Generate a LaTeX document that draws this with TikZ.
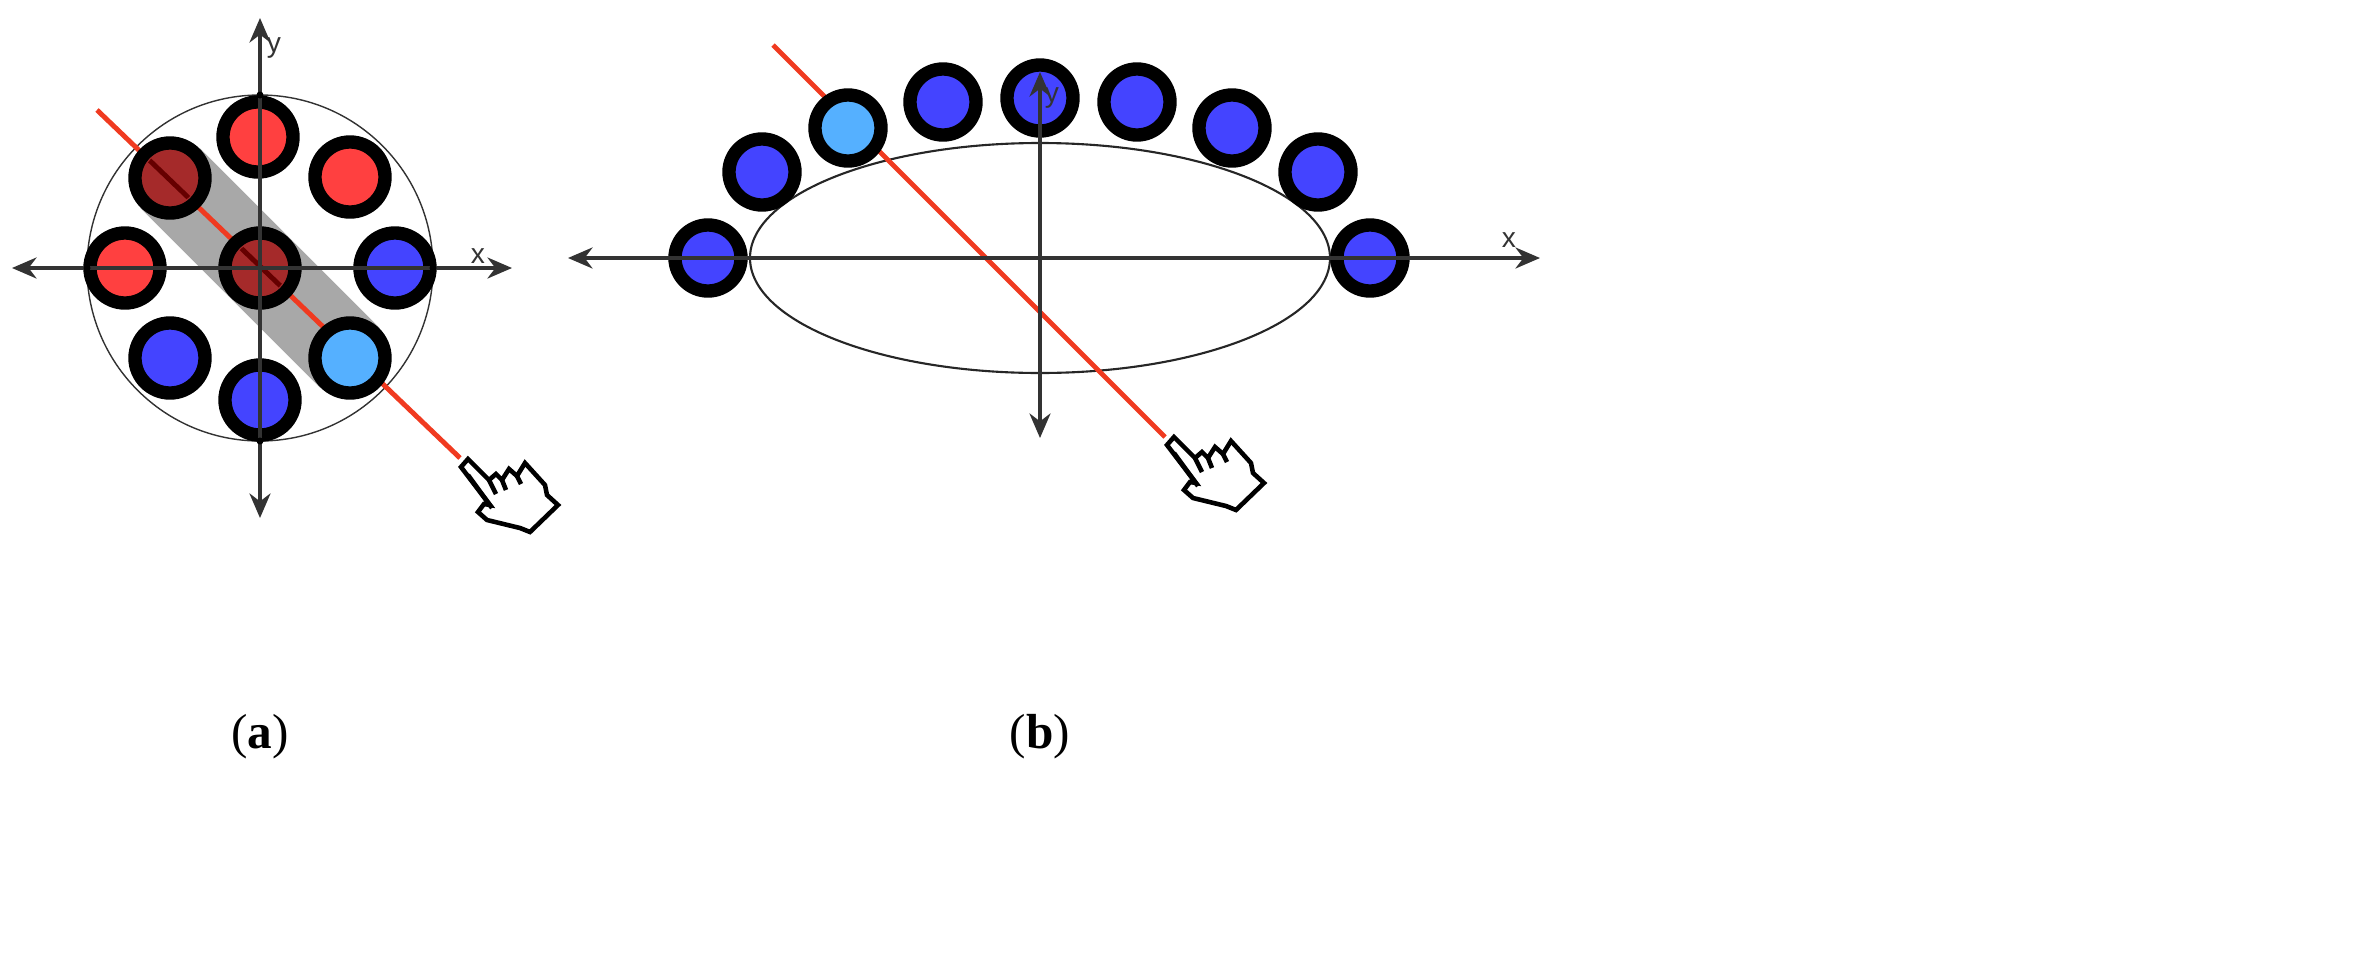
\documentclass[tikz,border=0pt]{standalone}
\usetikzlibrary{arrows.meta}
\usepackage{fontspec}
\setmainfont{Liberation Serif}
\newfontfamily\axfont{Liberation Sans}
\definecolor{cred}{HTML}{FF4040}
\definecolor{cdred}{HTML}{A52A2A}
\definecolor{cblue}{HTML}{4444FF}
\definecolor{clblue}{HTML}{55B0FF}
\definecolor{cgrey}{HTML}{A8A8A8}
\definecolor{cline}{HTML}{F03A20}
\begin{document}
\begin{tikzpicture}[x=0.01cm,y=-0.01cm,
  axis/.style={draw=black!80,line width=0.9pt,{Stealth[length=7pt,width=6pt]}-{Stealth[length=7pt,width=6pt]}},
  ring/.style={circle,draw=black,line width=3.8pt,inner sep=0pt,minimum size=0.70cm},
  ringb/.style={ring,minimum size=0.66cm},
  laser/.style={draw=cline,line width=1.4pt},
  hand/.style={draw=black,line width=1.3pt,fill=white,line join=miter},
  lab/.style={font=\axfont\fontsize{8}{9}\selectfont,text=black!80},
  captxt/.style={font=\fontsize{14}{16}\selectfont}]
\useasboundingbox (0,0) rectangle (2377,954);
% ---------- panel (a)
\coordinate (A) at (260,268);
\draw[black!80,line width=0.4pt] (A) circle (173);
\draw[cgrey,line width=24pt] (170,178) -- (350,358);
\coordinate (La) at (97,110);
\coordinate (Lb) at (460,458);
\draw[laser] (La) -- (Lb);
\node[ring,fill=cred]   (a1) at (258,137) {};
\node[ring,fill=cred]   (a2) at (350,177) {};
\node[ring,fill=cdred]  (a3) at (170,178) {};
\node[ring,fill=cred]   (a4) at (125,268) {};
\node[ring,fill=cdred]  (a5) at (260,268) {};
\node[ring,fill=cblue]  (a6) at (395,268) {};
\node[ring,fill=cblue]  (a7) at (170,358) {};
\node[ring,fill=cblue]  (a8) at (260,400) {};
\node[ring,fill=clblue] (a9) at (350,358) {};
\begin{scope}
\clip (170,178) circle (27) (260,268) circle (27);
\draw[draw=black!60!red,line width=1.4pt] (La) -- (Lb);
\end{scope}
\draw[axis] (12,268) -- (512,268);
\draw[axis] (260,518) -- (260,18);
\foreach \p in {(87,268),(433,268),(260,95),(260,441)} \fill[black] \p circle (3.5);
\node[lab] (ya) at (274,48) {y};
\node[lab] (xa) at (478,256) {x};
\begin{scope}[shift={(0,0)}]
\draw[hand] (461,467) -- (468,459) -- (489,480) -- (496,474) -- (502,480) -- (509,469) -- (517,476) -- (525,463) -- (545,485) -- (547,495) -- (558,505) -- (530,532) -- (520,528) -- (487,520) -- (478,512) -- (484,504) -- (490,505) -- cycle;
\draw[black,line width=1.3pt] (489,480) -- (496,494) (502,480) -- (506,490) (517,476) -- (521,484) (468,475) -- (492,508);
\end{scope}
\node[captxt] (ca) at (260,737) {(\textbf{a})};
% ---------- panel (b)
\coordinate (B) at (1040,258);
\draw[black!85,line width=0.6pt] (B) ellipse (290 and 115);
\coordinate (Ra) at (773,45);
\coordinate (Rb) at (1165,437);
\draw[laser] (Ra) -- (Rb);
\node[ringb,fill=cblue]  (b1) at (708,258) {};
\node[ringb,fill=cblue]  (b2) at (762,172) {};
\node[ringb,fill=clblue] (b3) at (848,128) {};
\node[ringb,fill=cblue]  (b4) at (943,102) {};
\node[ringb,fill=cblue]  (b5) at (1040,98) {};
\node[ringb,fill=cblue]  (b6) at (1137,102) {};
\node[ringb,fill=cblue]  (b7) at (1232,128) {};
\node[ringb,fill=cblue]  (b8) at (1318,172) {};
\node[ringb,fill=cblue]  (b9) at (1370,258) {};
\draw[axis] (568,258) -- (1540,258);
\draw[axis] (1040,438) -- (1040,72);
\node[lab] (yb) at (1052,98) {y};
\node[lab] (xb) at (1509,240) {x};
\begin{scope}[shift={(706,-22)}]
\draw[hand] (461,467) -- (468,459) -- (489,480) -- (496,474) -- (502,480) -- (509,469) -- (517,476) -- (525,463) -- (545,485) -- (547,495) -- (558,505) -- (530,532) -- (520,528) -- (487,520) -- (478,512) -- (484,504) -- (490,505) -- cycle;
\draw[black,line width=1.3pt] (489,480) -- (496,494) (502,480) -- (506,490) (517,476) -- (521,484) (468,475) -- (492,508);
\end{scope}
\node[captxt] (cb) at (1040,737) {(\textbf{b})};
\end{tikzpicture}
\end{document}
